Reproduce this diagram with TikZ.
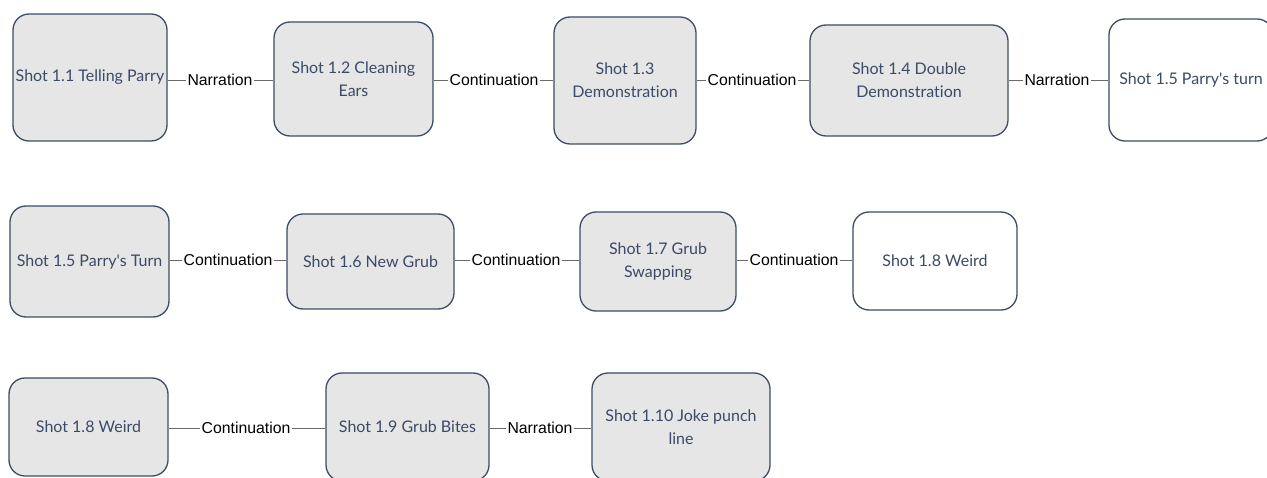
\documentclass[tikz,border=0pt]{standalone}
\usepackage{fontspec}
\newfontfamily\boxfont{Lato}[Ligatures={NoCommon}]
\newfontfamily\labfont{Liberation Sans}
\definecolor{boxfill}{HTML}{E6E6E6}
\definecolor{boxdraw}{HTML}{3E4C66}
\definecolor{boxtext}{HTML}{3B4A66}
\definecolor{connc}{HTML}{6A6A6A}
\begin{document}
\begin{tikzpicture}[x=1pt,y=-1pt,
  shot/.style={draw=boxdraw, line width=1.3pt, rounded corners=16pt, fill=boxfill,
    text=boxtext, font=\boxfont\fontsize{16}{23}\selectfont, align=center, inner sep=0pt},
  shotw/.style={shot, fill=white},
  lab/.style={font=\labfont\fontsize{15.8}{18}\selectfont, inner sep=1pt, text=black},
  conn/.style={draw=connc, line width=0.9pt}]
\useasboundingbox (0,0) rectangle (1267,478);
\fill[white] (0,0) rectangle (1267,478);
% row 1
\node[shot, minimum width=154pt, minimum height=127pt] (b1) at (90,77.5) {Shot 1.1 Telling Parry};
\node[shot, minimum width=159pt, minimum height=114pt] (b2) at (353.5,79) {Shot 1.2 Cleaning\\Ears};
\node[shot, minimum width=142pt, minimum height=127pt] (b3) at (625,80.5) {Shot 1.3\\Demonstration};
\node[shot, minimum width=198pt, minimum height=111pt] (b4) at (909,80.5) {Shot 1.4 Double\\Demonstration};
\node[shotw, minimum width=164pt, minimum height=122pt] (b5) at (1191,80) {Shot 1.5 Parry's turn};
\node[lab] (l1) at (220,80) {Narration};
\node[lab] (l2) at (494,80) {Continuation};
\node[lab] (l3) at (752,80) {Continuation};
\node[lab] (l4) at (1057,80) {Narration};
% row 2
\node[shot, minimum width=159pt, minimum height=111pt] (b6) at (89.5,261.5) {Shot 1.5 Parry's Turn};
\node[shot, minimum width=167pt, minimum height=95pt] (b7) at (370.5,261.5) {Shot 1.6 New Grub};
\node[shot, minimum width=156pt, minimum height=99pt] (b8) at (658,261.5) {Shot 1.7 Grub\\Swapping};
\node[shotw, minimum width=164pt, minimum height=98pt] (b9) at (935,261) {Shot 1.8 Weird};
\node[lab] (l5) at (228,260) {Continuation};
\node[lab] (l6) at (516,260) {Continuation};
\node[lab] (l7) at (794,260) {Continuation};
% row 3
\node[shot, minimum width=159pt, minimum height=98pt] (b10) at (88.5,427) {Shot 1.8 Weird};
\node[shot, minimum width=163pt, minimum height=108pt] (b11) at (407.5,427) {Shot 1.9 Grub Bites};
\node[shot, minimum width=178pt, minimum height=108pt] (b12) at (681,427) {Shot 1.10 Joke punch\\line};
\node[lab] (l8) at (246,428) {Continuation};
\node[lab] (l9) at (540,428) {Narration};
% connectors
\foreach \l/\a/\b in {l1/b1/b2, l2/b2/b3, l3/b3/b4, l4/b4/b5, l5/b6/b7, l6/b7/b8, l7/b8/b9, l8/b10/b11, l9/b11/b12} {
  \draw[conn] (\l) -- (\l -| \a.east);
  \draw[conn] (\l) -- (\l -| \b.west);
}
\end{tikzpicture}
\end{document}
